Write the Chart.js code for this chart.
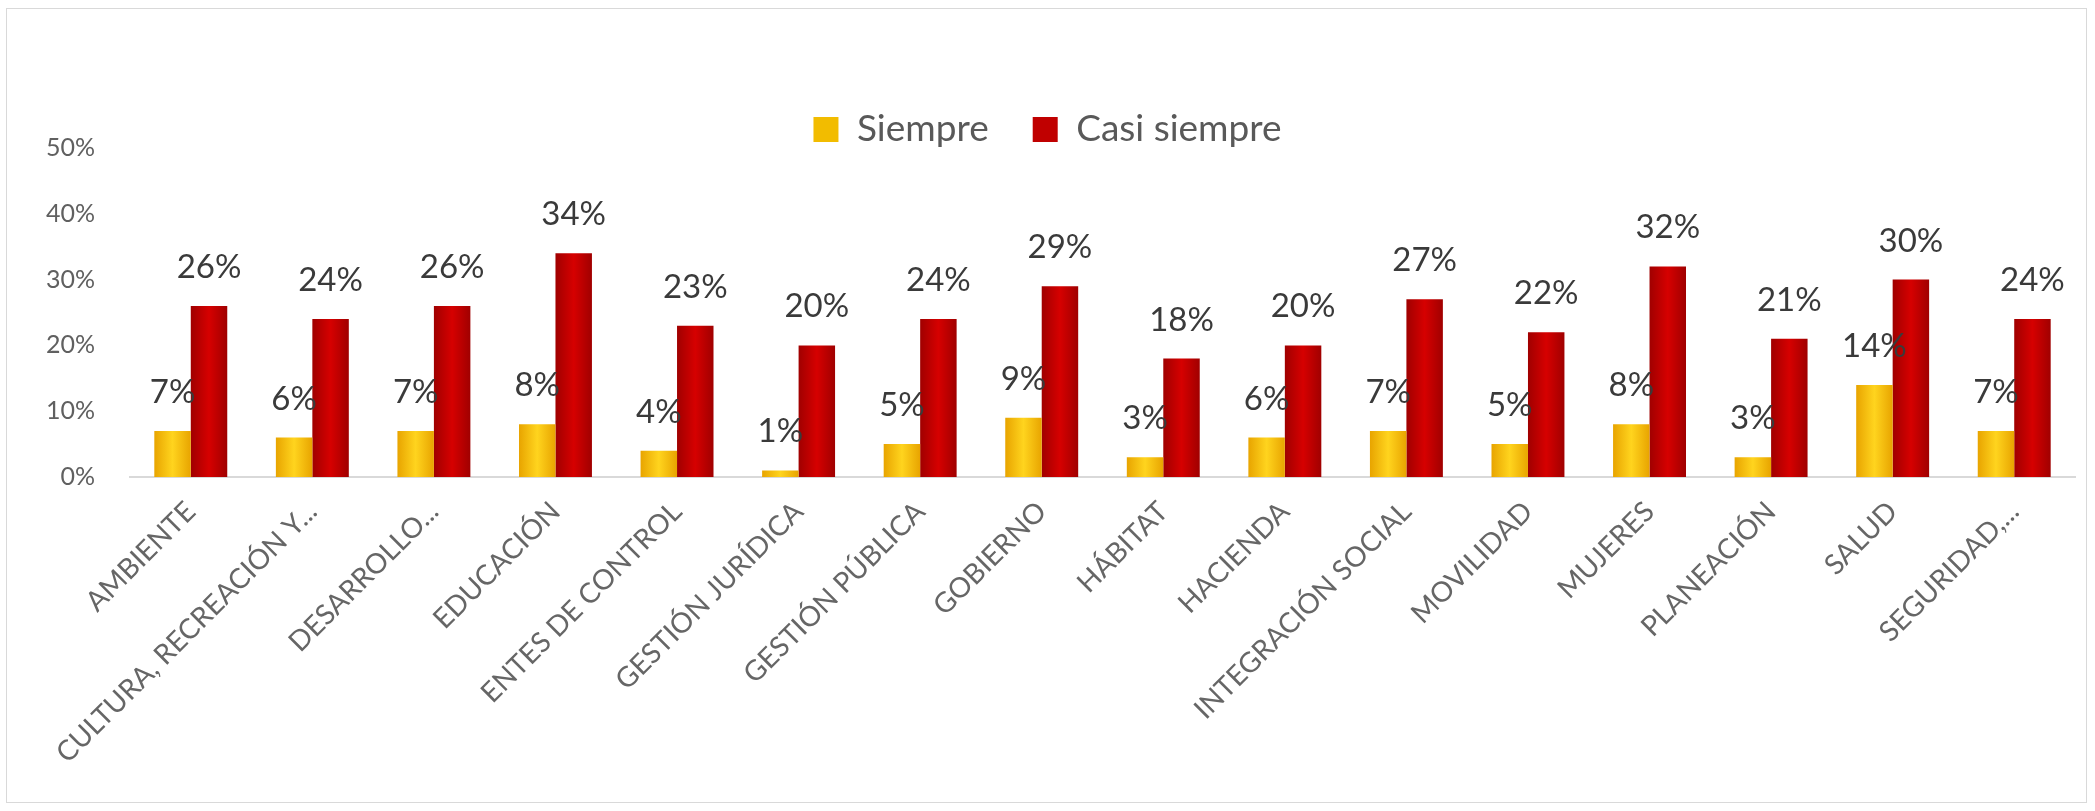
<!DOCTYPE html>
<html>
<head>
<meta charset="utf-8">
<script src="https://cdn.jsdelivr.net/npm/chart.js@4"></script>
<style>
  html, body { margin: 0; padding: 0; background: #fff; }
  #wrap { position: relative; width: 2095px; height: 811px; }
  #frame { position: absolute; left: 6px; top: 8px; width: 2081px; height: 795px; border: 1px solid #d9d9d9; box-sizing: border-box; }
  canvas { position: absolute; left: 0; top: 0; }
</style>
</head>
<body>
<div id="wrap">
  <div id="frame"></div>
  <canvas id="chart" width="2095" height="811"></canvas>
</div>
<script>
const categories = [
  "AMBIENTE", "CULTURA, RECREACIÓN Y...", "DESARROLLO...", "EDUCACIÓN",
  "ENTES DE CONTROL", "GESTIÓN JURÍDICA", "GESTIÓN PÚBLICA", "GOBIERNO",
  "HÁBITAT", "HACIENDA", "INTEGRACIÓN SOCIAL", "MOVILIDAD",
  "MUJERES", "PLANEACIÓN", "SALUD", "SEGURIDAD,..."
];
const siempre = [7, 6, 7, 8, 4, 1, 5, 9, 3, 6, 7, 5, 8, 3, 14, 7];
const casiSiempre = [26, 24, 26, 34, 23, 20, 24, 29, 18, 20, 27, 22, 32, 21, 30, 24];
const yMin = 0;
const yMax = 50;
const yStep = 10;

const catPct = 0.6;

Chart.defaults.font.family = "Lato, 'Open Sans', sans-serif";

// horizontal shading on each bar, positioned from the x scale
function barFill(dark, light) {
  return (c) => {
    const chart = c.chart;
    const xs = chart.scales.x;
    if (!chart.chartArea || !xs || c.type !== "data") return light;
    const center = xs.getPixelForValue(c.dataIndex);
    const w = (xs.width / categories.length) * catPct / 2;
    const left = c.datasetIndex === 0 ? center - w : center;
    const g = chart.ctx.createLinearGradient(left, 0, left + w, 0);
    g.addColorStop(0, dark);
    g.addColorStop(0.5, light);
    g.addColorStop(1, dark);
    return g;
  };
}

// value labels, drawn right after each dataset so red bars cover yellow labels
const valueLabels = {
  id: "valueLabels",
  afterDatasetDraw(chart, args) {
    const c = chart.ctx;
    const ds = chart.data.datasets[args.index];
    c.save();
    c.font = "33px Lato, 'Open Sans', sans-serif";
    c.fillStyle = "#3a3a3a";
    c.textAlign = "center";
    c.textBaseline = "alphabetic";
    args.meta.data.forEach((bar, j) => {
      c.fillText(ds.data[j] + "%", bar.x, bar.y - 28);
    });
    c.restore();
  }
};

new Chart(document.getElementById("chart"), {
  type: "bar",
  data: {
    labels: categories,
    datasets: [
      {
        label: "Siempre",
        data: siempre,
        backgroundColor: barFill("#E8A400", "#FFD41E"),
      },
      {
        label: "Casi siempre",
        data: casiSiempre,
        backgroundColor: barFill("#A00000", "#D60000"),
      },
    ],
  },
  options: {
    responsive: false,
    animation: false,
    layout: { padding: { left: 20, right: 20, top: 67, bottom: 10 } },
    datasets: {
      bar: { categoryPercentage: catPct, barPercentage: 1.0 },
    },
    plugins: {
      tooltip: { enabled: false },
      legend: {
        position: "top",
        maxHeight: 81,
        labels: {
          color: "#595959",
          font: { size: 37 },
          boxWidth: 25,
          boxHeight: 25,
          padding: 44,
          generateLabels(chart) {
            const items = Chart.defaults.plugins.legend.labels.generateLabels(chart);
            const solid = ["#F2BC00", "#C00000"];
            items.forEach((it, i) => {
              it.fillStyle = solid[i];
              it.strokeStyle = solid[i];
              it.lineWidth = 0;
            });
            return items;
          },
        },
      },
    },
    scales: {
      x: {
        grid: { display: false },
        border: { display: true, color: "#d9d9d9", width: 2 },
        ticks: {
          color: "#666666",
          font: { size: 28 },
          autoSkip: false,
          maxRotation: 45,
          minRotation: 45,
          padding: 10,
        },
        afterFit(scale) {
          scale.height = 811 - 477 - 10;
        },
      },
      y: {
        min: yMin,
        max: yMax,
        grid: { display: false },
        border: { display: false },
        ticks: {
          stepSize: yStep,
          color: "#606060",
          font: { size: 25 },
          padding: 27,
          callback: (v) => v + "%",
        },
        afterFit(scale) {
          scale.width = 110;
        },
      },
    },
  },
  plugins: [valueLabels],
});
</script>
</body>
</html>
